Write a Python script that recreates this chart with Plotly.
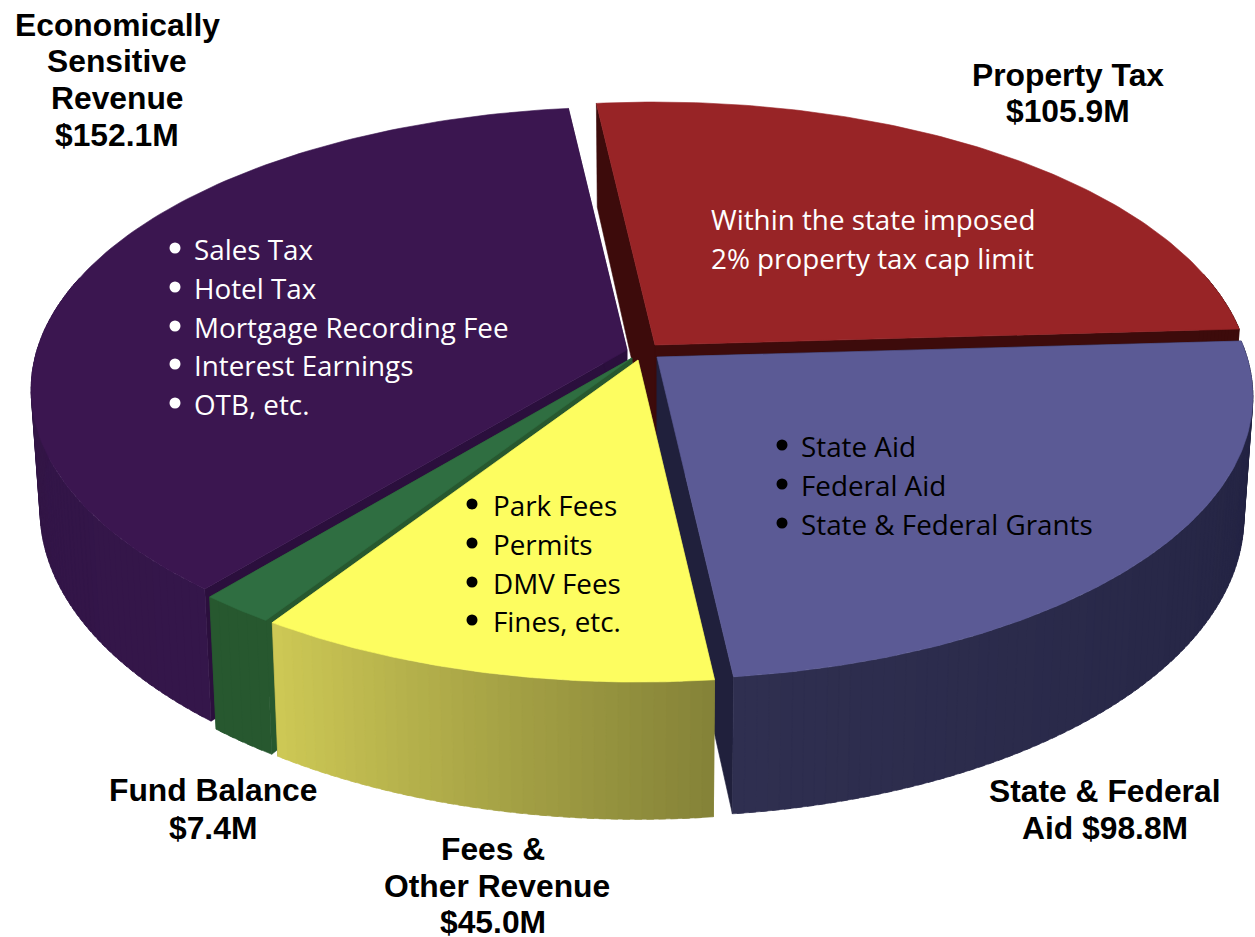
import numpy as np
import plotly.graph_objects as go

# ---- data ----
categories = ["Property Tax", "State & Federal Aid", "Fees & Other Revenue", "Fund Balance", "Economically Sensitive Revenue"]
values = [105.9, 98.8, 45.0, 7.4, 152.1]

label_lines = [
    ["Property Tax", "$105.9M"],
    ["State & Federal", "Aid $98.8M"],
    ["Fees &", "Other Revenue", "$45.0M"],
    ["Fund Balance", "$7.4M"],
    ["Economically", "Sensitive", "Revenue", "$152.1M"],
]
detail_lines = [
    ["Within the state imposed", "2% property tax cap limit"],
    ["State Aid", "Federal Aid", "State & Federal Grants"],
    ["Park Fees", "Permits", "DMV Fees", "Fines, etc."],
    [],
    ["Sales Tax", "Hotel Tax", "Mortgage Recording Fee", "Interest Earnings", "OTB, etc."],
]

# ---- styles and layout ----
START_ANGLE = -6.5
top_colors = ["#982426", "#5b5a95", "#fdfd60", "#2f6e41", "#3b1650"]
wall_colors = ["#3d0b0b", "#20203c", "#8a8838", "#27582f", "#2b0f3d"]
side_from = ["#3d0b0b", "#212140", "#858338", "#27582f", "#34164a"]   # at the wedge's first angle
side_to = ["#3d0b0b", "#2f2f50", "#cdc855", "#27582f", "#30123f"]     # at the wedge's last angle
apex = [(655, 345), (657, 357), (638, 360), (632, 358), (627, 350)]
draw_order = [0, 4, 1, 3, 2]
R, S, K, D, SHRINK = 590, 277, 0.14, 118, 0.015

label_x = [[1068, 1068], [1105, 1105], [493, 497, 493], [213, 213], [117, 117, 117, 117]]
label_y = [[75, 111], [791, 828], [849, 886, 922], [790, 828], [25, 61, 98, 135]]
detail_pos = [(709, [219, 258]), (799, [446, 485, 524]), (491, [505, 544, 583, 621]), (0, []), (192, [249, 288, 327, 365, 404])]
detail_color = ["white", "black", "black", "white", "white"]
bullet_x = [None, 782, 472, None, 175]
TEXT_FONT = "Open Sans"
TEXT_SIZE = 27.8
LABEL_FONT = "Liberation Sans"
LABEL_SIZE = 31.8


def project(ax, ay, theta_deg, rad, z):
    t = np.radians(theta_deg)
    u, v = rad * np.sin(t), rad * np.cos(t)
    w = 1 + K * v
    return ax + R * u / w * (1 - SHRINK * z), ay - S * v / w + z * D / w


def mix(a, b, f):
    ca = [int(a[i:i + 2], 16) for i in (1, 3, 5)]
    cb = [int(b[i:i + 2], 16) for i in (1, 3, 5)]
    return "rgb(%d,%d,%d)" % tuple(round(x + (y - x) * f) for x, y in zip(ca, cb))


def poly(fig, xs, ys, color):
    fig.add_trace(go.Scatter(x=list(xs) + [xs[0]], y=list(ys) + [ys[0]], mode="lines", fill="toself",
                             fillcolor=color, line=dict(color=color, width=0.6),
                             hoverinfo="skip", showlegend=False))


spans = np.array(values) / sum(values) * 360
starts = START_ANGLE + np.concatenate([[0], np.cumsum(spans)[:-1]])

fig = go.Figure()
for i in draw_order:
    ax, ay = apex[i]
    a0, a1 = starts[i], starts[i] + spans[i]
    # radial walls
    for ang in (a0, a1):
        x1, y1 = project(ax, ay, ang, 0, 0)
        x2, y2 = project(ax, ay, ang, 1, 0)
        x3, y3 = project(ax, ay, ang, 1, 1)
        x4, y4 = project(ax, ay, ang, 0, 1)
        poly(fig, [x1, x2, x3, x4], [y1, y2, y3, y4], wall_colors[i])
    # outer wall, shaded in narrow overlapping strips
    edges = np.linspace(a0, a1, max(2, int(spans[i]) + 1))
    for j in range(len(edges) - 1):
        if np.cos(np.radians(edges[j])) > 0.25 and np.cos(np.radians(edges[j + 1])) > 0.25:
            continue
        f = j / max(1, len(edges) - 2)
        end = min(a1, edges[j + 1] + 0.6)
        x1, y1 = project(ax, ay, edges[j], 1, 0)
        x2, y2 = project(ax, ay, end, 1, 0)
        x3, y3 = project(ax, ay, end, 1, 1)
        x4, y4 = project(ax, ay, edges[j], 1, 1)
        poly(fig, [x1, x2, x3, x4], [y1, y2, y3, y4], mix(side_from[i], side_to[i], f))
    # top face
    arc = np.linspace(a0, a1, 120)
    xa, ya = project(ax, ay, arc, 1, 0)
    poly(fig, [ax] + list(xa), [ay] + list(ya), top_colors[i])

annotations = []
for i in range(len(values)):
    for line, x, y in zip(label_lines[i], label_x[i], label_y[i]):
        annotations.append(dict(x=x, y=y, text="<b>" + line + "</b>", showarrow=False, xanchor="center", yanchor="middle",
                                font=dict(family=LABEL_FONT, size=LABEL_SIZE, color="black")))
    tx, ys = detail_pos[i]
    for line, y in zip(detail_lines[i], ys):
        annotations.append(dict(x=tx, y=y, text=line, showarrow=False, xanchor="left", yanchor="middle",
                                font=dict(family=TEXT_FONT, size=TEXT_SIZE, color=detail_color[i])))
        if bullet_x[i] is not None:
            fig.add_trace(go.Scatter(x=[bullet_x[i]], y=[y - 1], mode="markers", hoverinfo="skip", showlegend=False,
                                     marker=dict(size=11, color=detail_color[i])))

fig.update_layout(
    width=1255, height=937, autosize=False, margin=dict(l=0, r=0, t=0, b=0),
    paper_bgcolor="white", plot_bgcolor="white", showlegend=False, annotations=annotations,
    xaxis=dict(range=[0, 1255], visible=False, fixedrange=True),
    yaxis=dict(range=[937, 0], visible=False, fixedrange=True),
)
fig.write_html("out.html", post_script="document.body.style.margin='0';document.body.style.overflow='hidden';",
               config={"displayModeBar": False})
